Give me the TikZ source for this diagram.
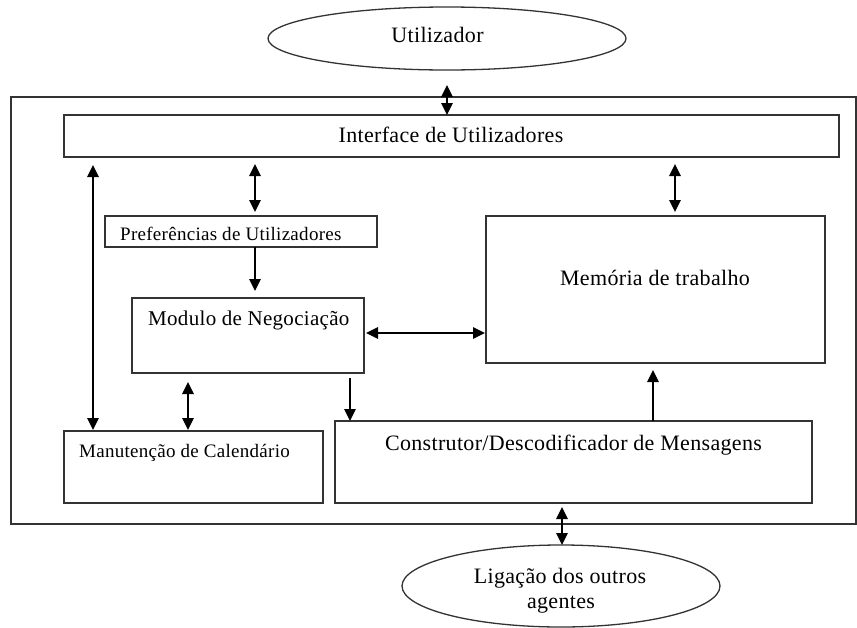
\documentclass[tikz,border=0pt]{standalone}
\usepackage{fontspec}
\setmainfont[LetterSpace=1.5]{Liberation Serif}
\usetikzlibrary{arrows.meta,shapes.geometric}
\definecolor{linec}{HTML}{333333}
\begin{document}
\begin{tikzpicture}[x=1pt,y=-1pt,
  box/.style={draw=linec, line width=1.3pt, anchor=north west, inner sep=0pt, outer sep=0pt},
  oval/.style={ellipse, draw=linec, line width=1.3pt, inner sep=0pt, outer sep=0pt},
  tip/.tip={Triangle[length=12pt,width=11.5pt]},
  both/.style={tip-tip, line width=1.4pt, black},
  one/.style={-tip, line width=1.4pt, black},
  big/.style={inner sep=0pt, font=\fontsize{22}{25}\selectfont},
  mid/.style={inner sep=0pt, font=\fontsize{21}{24}\selectfont},
  small/.style={inner sep=0pt, font=\fontsize{19}{22}\selectfont}]
\useasboundingbox (0,0) rectangle (857,627);
% outer frame
\node[box, minimum width=845pt, minimum height=427pt] (frame) at (11,97) {};
% ellipses
\node[oval, minimum width=358pt, minimum height=63pt] (user) at (447,38.5) {};
\node[big, anchor=base] (usert) at (437.5,42) {Utilizador};
\node[oval, minimum width=318pt, minimum height=82pt] (lig) at (561,586) {};
\node[big, anchor=base] (ligt1) at (560,583) {Ligação dos outros};
\node[big, anchor=base] (ligt2) at (561,608) {agentes};
% boxes
\node[box, minimum width=775pt, minimum height=42pt] (iface) at (64,115) {};
\node[big, anchor=base] (ifacet) at (451,142) {Interface de Utilizadores};
\node[box, minimum width=272pt, minimum height=31pt] (pref) at (105,216) {};
\node[small, anchor=base west] (preft) at (120,240) {Preferências de Utilizadores};
\node[box, minimum width=232pt, minimum height=75pt] (modulo) at (132,298) {};
\node[mid, anchor=base west] (modulot) at (148,325) {Modulo de Negociação};
\node[box, minimum width=339pt, minimum height=147pt] (mem) at (486,216) {};
\node[big, anchor=base] (memt) at (655,285) {Memória de trabalho};
\node[box, minimum width=259pt, minimum height=72pt] (manut) at (64,431) {};
\node[small, anchor=base west] (manutt) at (79,457) {Manutenção de Calendário};
\node[box, minimum width=477pt, minimum height=82pt] (cons) at (335,421) {};
\node[big, anchor=base] (const) at (573.5,450) {Construtor/Descodificador de Mensagens};
% x positions of connectors
\coordinate (xa) at (255,0);
\coordinate (xb) at (93,0);
\coordinate (xc) at (675,0);
\coordinate (xd) at (188,0);
\coordinate (xe) at (350,0);
\coordinate (xf) at (653,0);
\coordinate (xg) at (562,0);
\coordinate (ya) at (0,333);
% connectors
\draw[both, shorten <=15pt] (user.south) -- (iface.north -| user.south);
\draw[both, shorten <=7pt, shorten >=4pt] (iface.south -| xa) -- (pref.north -| xa);
\draw[one, shorten >=7pt] (pref.south -| xa) -- (modulo.north -| xa);
\draw[both, shorten <=8pt, shorten >=1pt] (iface.south -| xb) -- (manut.north -| xb);
\draw[both, shorten <=7pt, shorten >=4pt] (iface.south -| xc) -- (mem.north -| xc);
\draw[both, shorten <=2pt, shorten >=1pt] (modulo.east |- ya) -- (mem.west |- ya);
\draw[both, shorten <=9pt, shorten >=1pt] (modulo.south -| xd) -- (manut.north -| xd);
\draw[one, shorten <=5pt] (modulo.south -| xe) -- (cons.north -| xe);
\draw[one, shorten >=7pt] (cons.north -| xf) -- (mem.south -| xf);
\draw[both, shorten <=4pt] (cons.south -| xg) -- (lig.north -| xg);
\end{tikzpicture}
\end{document}
